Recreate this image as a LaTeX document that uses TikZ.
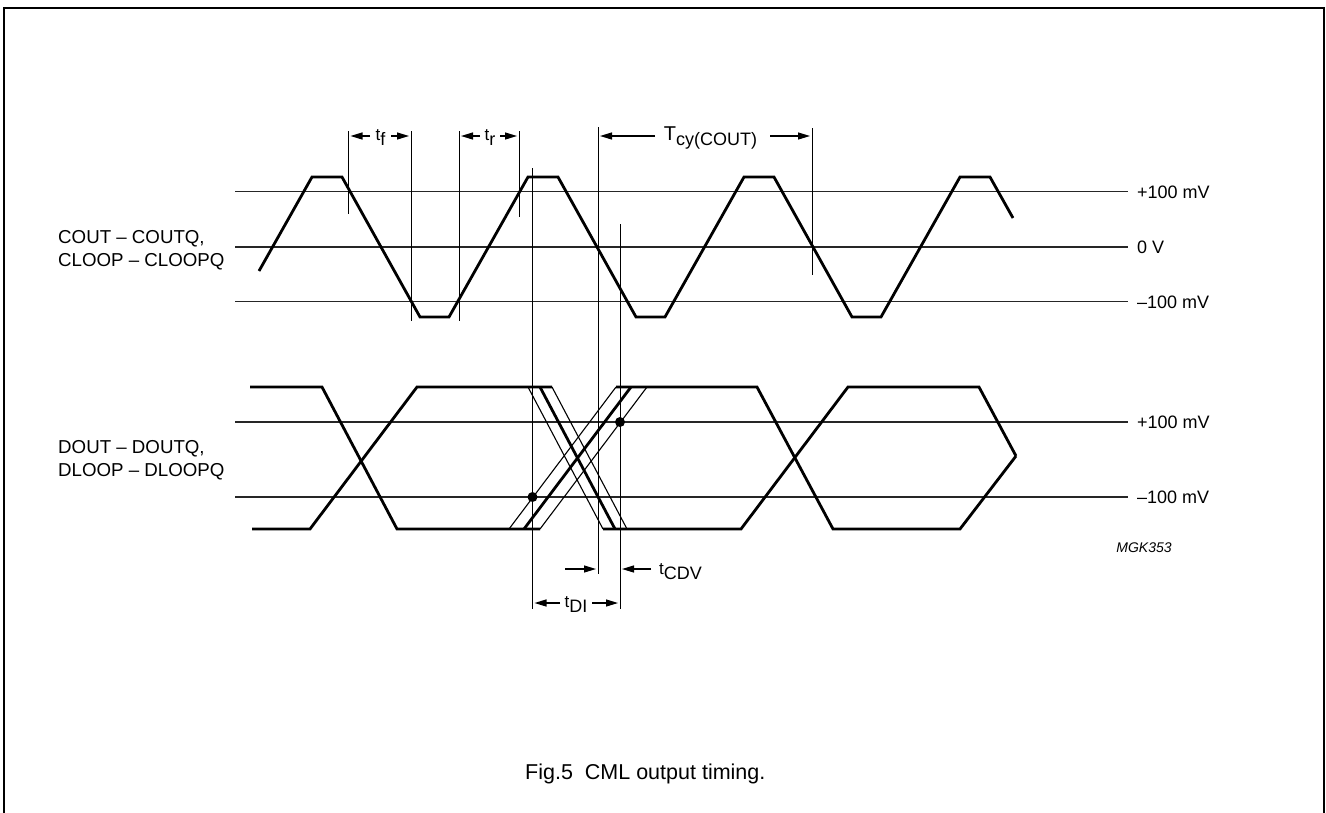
\documentclass[tikz,border=0pt]{standalone}
\usepackage{fontspec}
\setmainfont{Liberation Sans}
\usetikzlibrary{arrows.meta}
\newcommand{\dimlbl}[3]{{\fontsize{#1}{#1}\selectfont #2}\raisebox{-5.5pt}{\fontsize{18}{18}\selectfont #3}}
\begin{document}
\begin{tikzpicture}[x=1pt,y=-1pt,
  frame/.style={line width=2pt},
  gridline/.style={line width=1.1pt, black!85},
  wave/.style={line width=2.8pt, line join=miter},
  thinwave/.style={line width=1.1pt},
  marker/.style={line width=1pt},
  dimarrow/.style={line width=1.2pt, -{Triangle[length=12pt,width=7pt]}},
  lab/.style={font=\fontsize{18}{20}\selectfont, inner sep=0pt},
  siglab/.style={font=\fontsize{18.7}{21}\selectfont, inner sep=0pt, anchor=base west},
  dimtext/.style={inner sep=0pt, anchor=base},
  dotmark/.style={fill=black}
]
\useasboundingbox (0,0) rectangle (1326,812);
\fill[white] (0,0) rectangle (1326,812);
% frame
\draw[frame] (4,816) -- (4,8) -- (1324,8) -- (1324,816);

% reference levels
\draw[gridline] (235,191.5) -- (1128,191.5);
\draw[gridline] (235,247) -- (1128,247);
\draw[gridline] (235,301.5) -- (1128,301.5);
\draw[gridline] (235,422) -- (1128,422);
\draw[gridline] (235,497) -- (1128,497);

% clock waveform
\draw[wave] (259,271) -- (312,177) -- (342,177) -- (420,317) -- (449,317)
  -- (528,177) -- (558,177) -- (636,317) -- (665,317) -- (744,177)
  -- (774,177) -- (852,317) -- (881,317) -- (960,177) -- (990,177) -- (1013,218);

% data waveforms
\draw[wave] (250,387) -- (322,387) -- (397,529) -- (540,529);
\draw[wave] (524,529) -- (631,387);
\draw[thinwave] (509,529) -- (616,387);
\draw[thinwave] (540,529) -- (647,387);
\draw[wave] (616,387) -- (757,387) -- (833,529) -- (960,529) -- (1016,456);

\draw[wave] (252,529) -- (310,529) -- (417,387) -- (552,387);
\draw[wave] (540,387) -- (615,529);
\draw[thinwave] (528,387) -- (603,529);
\draw[thinwave] (552,387) -- (627,529);
\draw[wave] (603,529) -- (741,529) -- (848,387) -- (979,387) -- (1016,456);

% marker lines
\draw[marker] (348.5,131) -- (348.5,214);
\draw[marker] (411,131) -- (411,321);
\draw[marker] (459,131) -- (459,321);
\draw[marker] (519,131) -- (519,217);
\draw[marker] (532.5,168) -- (532.5,609);
\draw[marker] (598,127) -- (598,574);
\draw[marker] (620,224) -- (620,609);
\draw[marker] (812,128) -- (812,275);

% dots
\fill[dotmark] (532.5,497) circle (5pt);
\fill[dotmark] (620,422) circle (5pt);

% dimension arrows - top
\draw[dimarrow] (370,136) -- (350.5,136);
\node[dimtext] (tf) at (380.5,140) {\dimlbl{17}{t}{f}};
\draw[dimarrow] (391,136) -- (409,136);
\draw[dimarrow] (480,136) -- (461,136);
\node[dimtext] (tr) at (490,140) {\dimlbl{17}{t}{r}};
\draw[dimarrow] (500,136) -- (517,136);
\draw[dimarrow] (655,136) -- (600,136);
\node[dimtext] (tcy) at (710.5,140) {\dimlbl{20}{T}{cy(COUT)}};
\draw[dimarrow] (770,136) -- (810,136);

% dimension arrows - bottom
\draw[dimarrow] (565,569) -- (596,569);
\draw[dimarrow] (651,569) -- (622,569);
\node[dimtext, anchor=base west] (tcdv) at (659,574) {\dimlbl{17}{t}{CDV}};
\draw[dimarrow] (560,603) -- (534.5,603);
\node[dimtext] (tdi) at (576,607) {\dimlbl{17}{t}{DI}};
\draw[dimarrow] (592,603) -- (618,603);

% level labels
\node[lab, anchor=west] (l1) at (1137,192) {+100 mV};
\node[lab, anchor=west] (l2) at (1137,247) {0 V};
\node[lab, anchor=west] (l3) at (1137,302) {–100 mV};
\node[lab, anchor=west] (l4) at (1137,422) {+100 mV};
\node[lab, anchor=west] (l5) at (1137,497) {–100 mV};

% signal names
\node[siglab] (s1) at (58,243) {COUT – COUTQ,};
\node[siglab] (s2) at (58,266.5) {CLOOP – CLOOPQ};
\node[siglab] (s3) at (58,453) {DOUT – DOUTQ,};
\node[siglab] (s4) at (58,476.5) {DLOOP – DLOOPQ};

% code and caption
\node[inner sep=0pt, font=\fontsize{14}{16}\selectfont\itshape] (code) at (1144,548) {MGK353};
\node[inner sep=0pt, anchor=base west, font=\fontsize{21.5}{24}\selectfont] (cap) at (525,779) {Fig.5\ \ CML output timing.};
\end{tikzpicture}
\end{document}
